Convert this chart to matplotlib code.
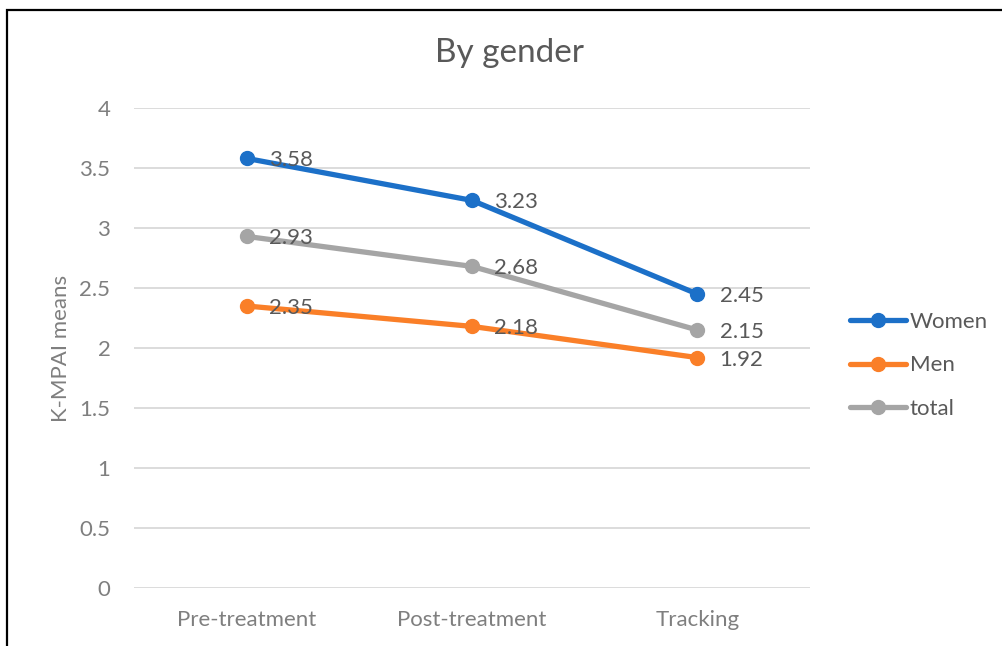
import matplotlib
matplotlib.use("Agg")
import matplotlib.pyplot as plt
from matplotlib.patches import Rectangle

categories = ["Pre-treatment", "Post-treatment", "Tracking"]
women = [3.58, 3.23, 2.45]
men = [2.35, 2.18, 1.92]
total = [2.93, 2.68, 2.15]
series_names = ["Women", "Men", "total"]
colors = ["#1C70C8", "#FA7F28", "#A5A5A5"]
yticks = [0, 0.5, 1, 1.5, 2, 2.5, 3, 3.5, 4]

plt.rcParams['font.family'] = ['Lato', 'DejaVu Sans']
fs = 16
tick_color = "#7F7F7F"
label_color = "#595959"

fig = plt.figure(figsize=(10.03, 6.46), dpi=100)
ax = fig.add_axes([134/1003, 1-588/646, (810-134)/1003, (588-108)/646])

x = list(range(len(categories)))
for vals, name, c in zip([women, men, total], series_names, colors):
    ax.plot(x, vals, color=c, lw=3.8, marker='o', ms=10, label=name, solid_capstyle='round')
    for xi, v in zip(x, vals):
        ax.annotate(f"{v:g}", (xi, v), xytext=(16, -1.5), textcoords='offset points',
                    ha='left', va='center', fontsize=fs, color=label_color)

ax.set_xlim(-0.5, len(categories)-0.5)
ax.set_ylim(0, 4)
ax.set_yticks(yticks)
ax.set_yticklabels([f"{t:g}" for t in yticks])
ax.set_xticks(x)
ax.set_xticklabels(categories)
ax.tick_params(axis='both', length=0, labelsize=fs, colors=tick_color)
ax.tick_params(axis='y', pad=17)
ax.tick_params(axis='x', pad=16)
ax.yaxis.grid(True, color="#D9D9D9", lw=1.3)
ax.set_axisbelow(True)
for s in ax.spines.values():
    s.set_visible(False)

ax.set_ylabel("K-MPAI means", fontsize=fs, color=tick_color, labelpad=6)
fig.text(510/1003, 1-53/646, "By gender", ha='center', va='center', fontsize=24, color=label_color)

leg = fig.legend(loc='upper left', bbox_to_anchor=(850/1003, 1-312/646), frameon=False,
                 fontsize=fs, handlelength=2.5, handletextpad=0.2, labelspacing=1.05,
                 borderpad=0, borderaxespad=0, labelcolor=label_color)

fig.patches.append(Rectangle((7/1003, -0.05), 1.1, 1-10/646+0.05, transform=fig.transFigure,
                             fill=False, edgecolor='black', lw=1.6))

fig.savefig("out.png", dpi=100)
